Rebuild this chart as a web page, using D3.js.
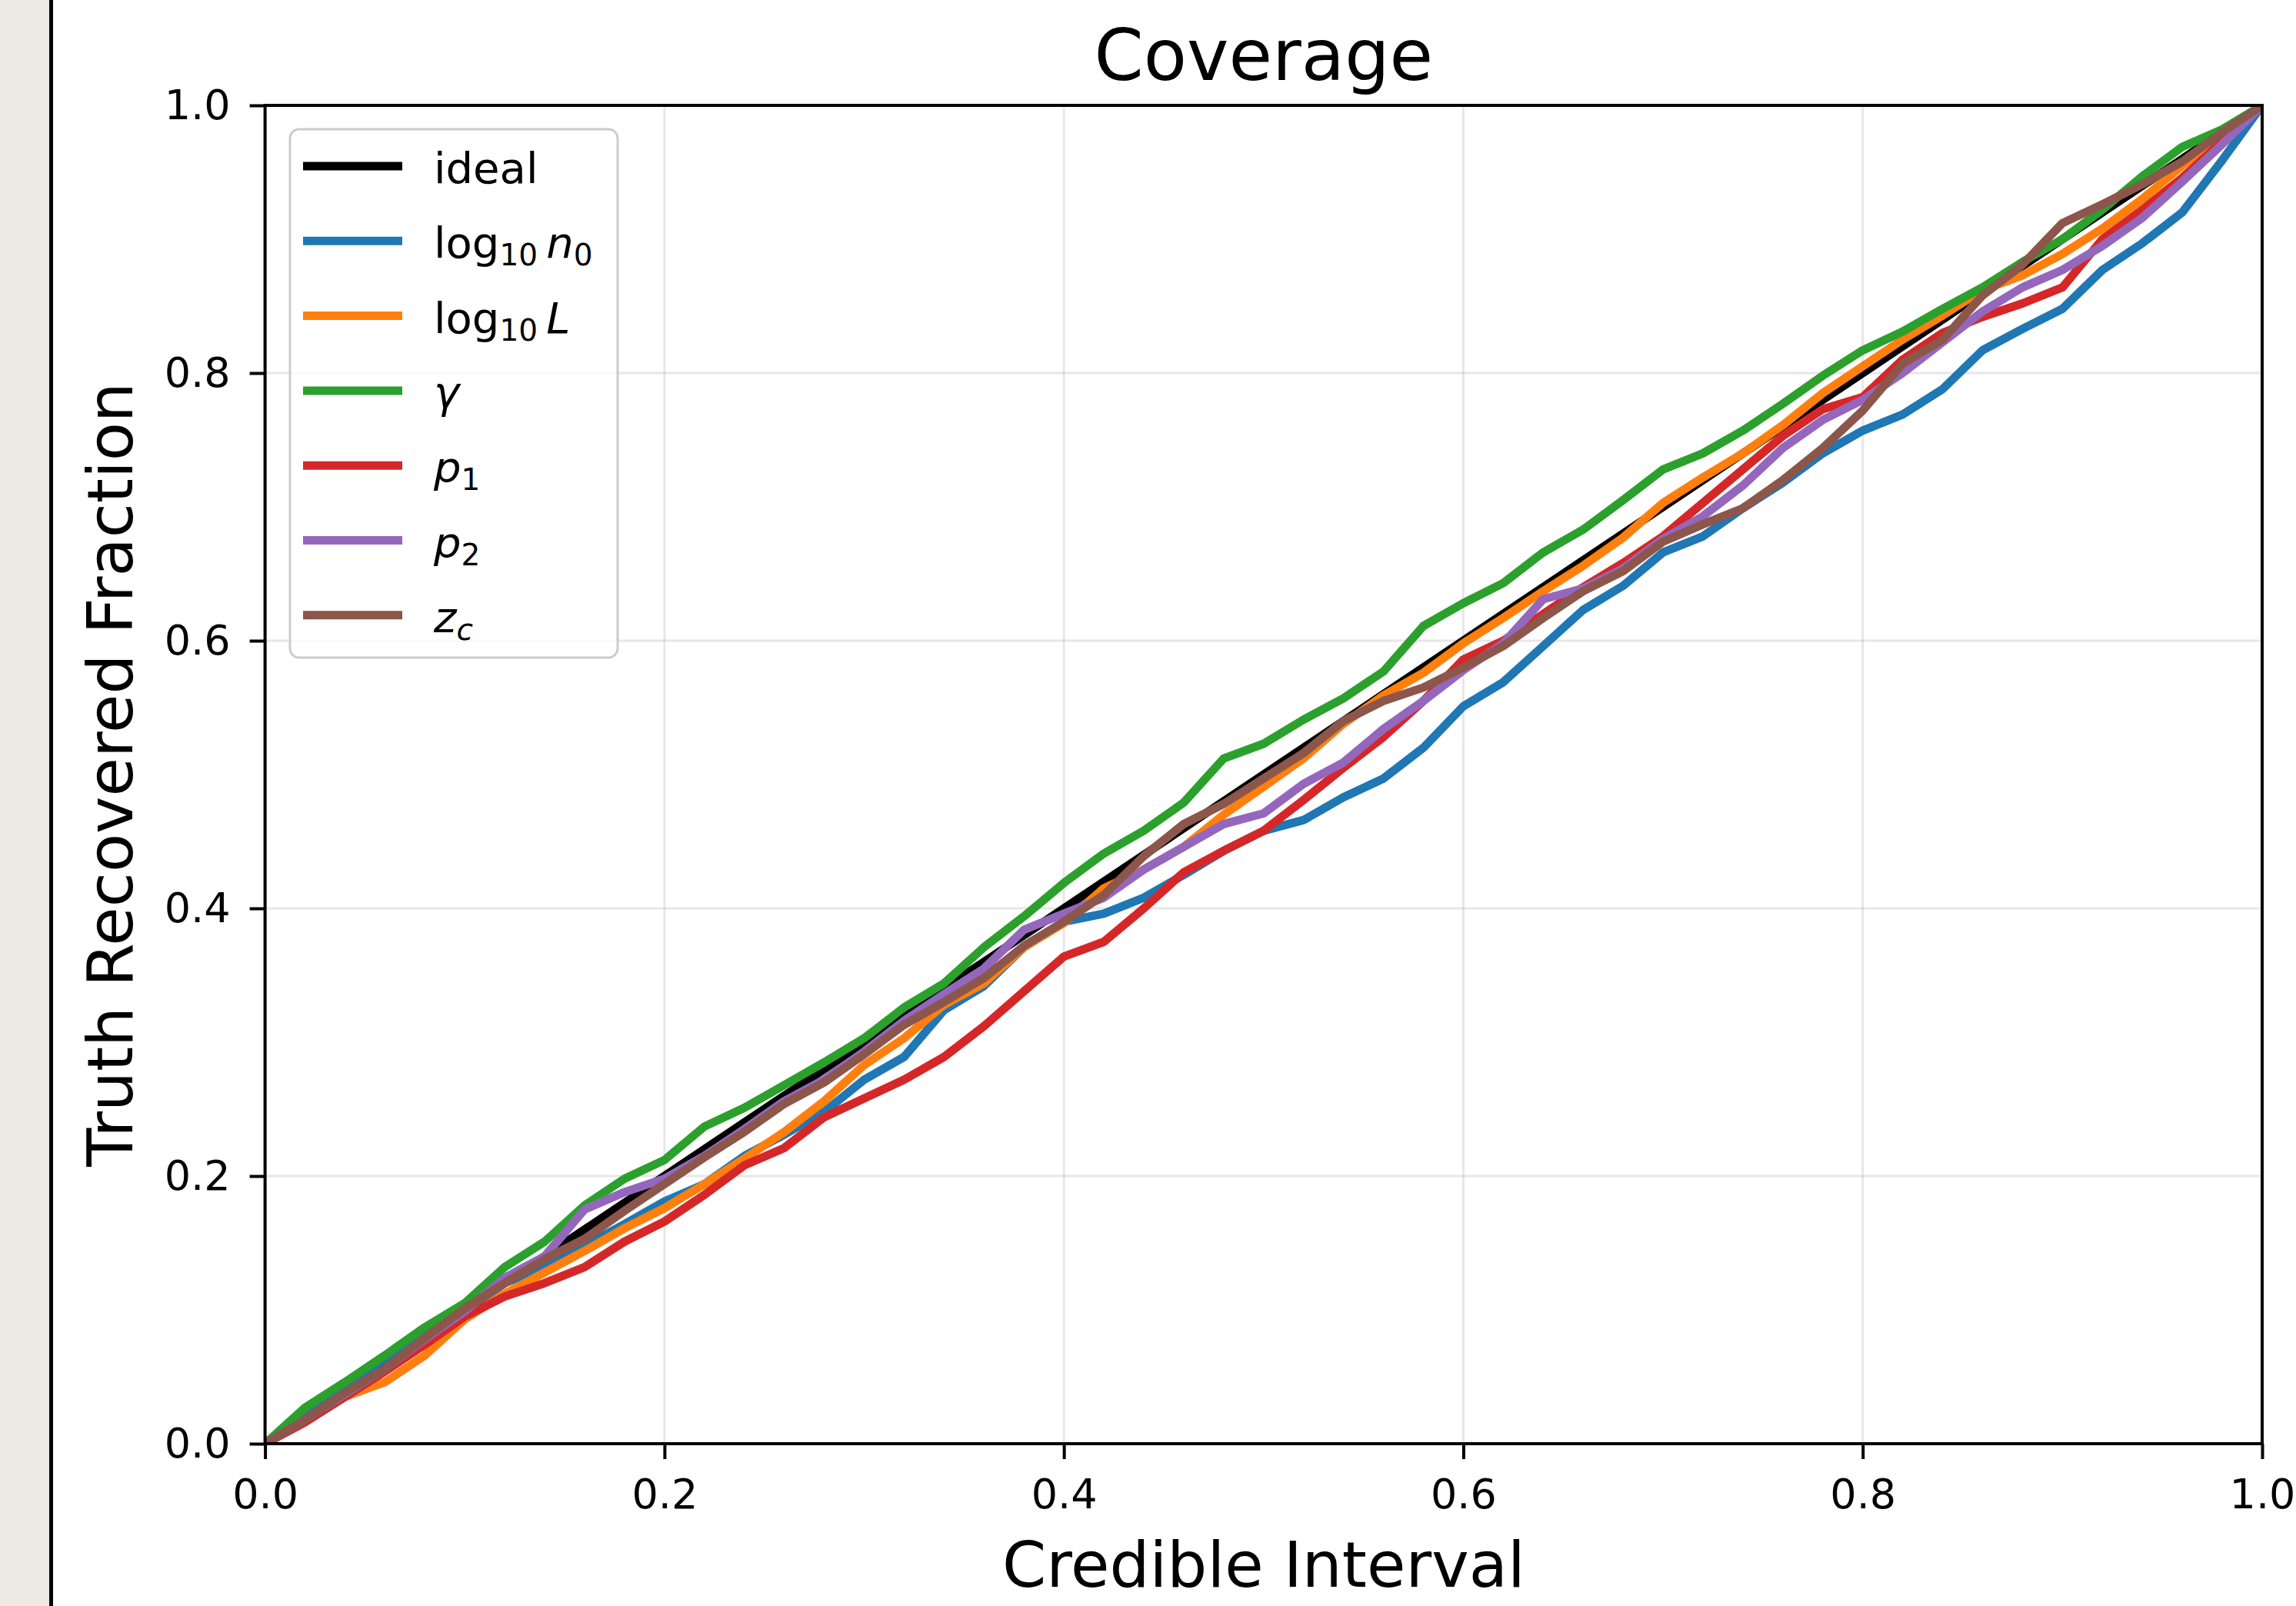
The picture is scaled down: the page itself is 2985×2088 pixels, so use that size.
<!DOCTYPE html>
<html lang="en">
<head>
<meta charset="UTF-8">
<title>Coverage</title>
<script src="https://cdnjs.cloudflare.com/ajax/libs/d3/7.8.5/d3.min.js"></script>
<style>
  * { margin: 0; padding: 0; }
  html, body { background: #fff; }
  svg { display: block; font-family: "DejaVu Sans", sans-serif; }
</style>
</head>
<body>
<div id="chart"></div>
<script>
// credible interval levels (x) shared by every curve
const levels = [0, 0.02, 0.04, 0.06, 0.08, 0.10, 0.12, 0.14, 0.16, 0.18, 0.20,
  0.22, 0.24, 0.26, 0.28, 0.30, 0.32, 0.34, 0.36, 0.38, 0.40,
  0.42, 0.44, 0.46, 0.48, 0.50, 0.52, 0.54, 0.56, 0.58, 0.60,
  0.62, 0.64, 0.66, 0.68, 0.70, 0.72, 0.74, 0.76, 0.78, 0.80,
  0.82, 0.84, 0.86, 0.88, 0.90, 0.92, 0.94, 0.96, 0.98, 1.0]

// truth recovered fraction
const idealX = [0, 1]
const idealY = [0, 1]
const n0Vals = [0, 0.020, 0.043, 0.064, 0.082, 0.099, 0.120, 0.132, 0.148, 0.164, 0.181,
  0.194, 0.215, 0.231, 0.248, 0.272, 0.289, 0.324, 0.342, 0.371, 0.390,
  0.396, 0.408, 0.425, 0.443, 0.458, 0.466, 0.483, 0.497, 0.520, 0.551,
  0.569, 0.596, 0.623, 0.641, 0.666, 0.678, 0.699, 0.718, 0.740, 0.757,
  0.769, 0.788, 0.817, 0.833, 0.848, 0.877, 0.897, 0.920, 0.959, 1.0]
const LVals = [0, 0.017, 0.035, 0.046, 0.066, 0.093, 0.112, 0.128, 0.144, 0.161, 0.176,
  0.194, 0.213, 0.233, 0.256, 0.283, 0.303, 0.328, 0.344, 0.371, 0.389,
  0.415, 0.429, 0.446, 0.470, 0.491, 0.512, 0.538, 0.559, 0.576, 0.598,
  0.617, 0.637, 0.656, 0.677, 0.703, 0.722, 0.740, 0.761, 0.785, 0.805,
  0.825, 0.843, 0.862, 0.873, 0.889, 0.908, 0.930, 0.955, 0.978, 1.0]
const gammaVals = [0, 0.027, 0.046, 0.066, 0.087, 0.105, 0.132, 0.151, 0.178, 0.198, 0.212,
  0.237, 0.251, 0.268, 0.285, 0.303, 0.326, 0.344, 0.371, 0.394, 0.419,
  0.441, 0.458, 0.479, 0.512, 0.523, 0.541, 0.557, 0.577, 0.611, 0.628,
  0.643, 0.666, 0.683, 0.705, 0.728, 0.740, 0.757, 0.777, 0.798, 0.817,
  0.831, 0.848, 0.864, 0.883, 0.900, 0.922, 0.947, 0.969, 0.982, 1.0]
const p1Vals = [0, 0.016, 0.035, 0.054, 0.074, 0.095, 0.110, 0.120, 0.132, 0.151, 0.166,
  0.186, 0.208, 0.221, 0.244, 0.258, 0.272, 0.289, 0.312, 0.338, 0.364,
  0.375, 0.400, 0.427, 0.443, 0.458, 0.481, 0.505, 0.528, 0.555, 0.586,
  0.600, 0.620, 0.640, 0.658, 0.678, 0.703, 0.728, 0.753, 0.773, 0.782,
  0.810, 0.830, 0.842, 0.852, 0.864, 0.900, 0.922, 0.946, 0.973, 1.0]
const p2Vals = [0, 0.018, 0.037, 0.056, 0.078, 0.099, 0.124, 0.140, 0.175, 0.188, 0.198,
  0.215, 0.235, 0.256, 0.272, 0.293, 0.316, 0.336, 0.355, 0.384, 0.396,
  0.408, 0.429, 0.446, 0.463, 0.471, 0.493, 0.509, 0.534, 0.555, 0.578,
  0.598, 0.631, 0.639, 0.654, 0.676, 0.693, 0.716, 0.744, 0.765, 0.780,
  0.800, 0.823, 0.846, 0.864, 0.877, 0.895, 0.916, 0.943, 0.971, 1.0]
const zcVals = [0, 0.018, 0.038, 0.056, 0.079, 0.101, 0.120, 0.138, 0.153, 0.174, 0.194,
  0.214, 0.233, 0.254, 0.270, 0.291, 0.313, 0.330, 0.348, 0.372, 0.390,
  0.410, 0.439, 0.463, 0.478, 0.497, 0.516, 0.540, 0.555, 0.565, 0.580,
  0.596, 0.617, 0.637, 0.652, 0.674, 0.687, 0.699, 0.720, 0.744, 0.772,
  0.807, 0.825, 0.858, 0.881, 0.912, 0.926, 0.941, 0.958, 0.980, 1.0]

const xTicks = [0, 0.2, 0.4, 0.6, 0.8, 1.0]
const yTicks = [0, 0.2, 0.4, 0.6, 0.8, 1.0]

// legend labels: pieces of mathtext (it = italic, sub = subscript)
const series = [
  { name: 'ideal', color: '#000000', xs: idealX, ys: idealY, label: [{ t: 'ideal' }] },
  { name: 'n0', color: '#1f77b4', xs: levels, ys: n0Vals,
    label: [{ t: 'log' }, { t: '10', sub: true }, { t: '\u2009' }, { t: 'n', it: true }, { t: '0', sub: true }] },
  { name: 'L', color: '#ff7f0e', xs: levels, ys: LVals,
    label: [{ t: 'log' }, { t: '10', sub: true }, { t: '\u2009' }, { t: 'L', it: true }] },
  { name: 'gamma', color: '#2ca02c', xs: levels, ys: gammaVals, label: [{ t: '\u03b3', it: true }] },
  { name: 'p1', color: '#d62728', xs: levels, ys: p1Vals, label: [{ t: 'p', it: true }, { t: '1', sub: true }] },
  { name: 'p2', color: '#9467bd', xs: levels, ys: p2Vals, label: [{ t: 'p', it: true }, { t: '2', sub: true }] },
  { name: 'zc', color: '#8c564b', xs: levels, ys: zcVals, label: [{ t: 'z', it: true }, { t: 'c', it: true, sub: true }] }
]

const W = 2985, H = 2088
const m = { left: 344.6, right: 2941, top: 137, bottom: 1877 }

const svg = d3.select('#chart').append('svg')
  .attr('width', W).attr('height', H)

svg.append('rect').attr('width', W).attr('height', H).attr('fill', '#fff')
// strip on the left of the screenshot
svg.append('rect').attr('x', 0).attr('y', 0).attr('width', 64).attr('height', H).attr('fill', '#eceae2')
svg.append('rect').attr('x', 64).attr('y', 0).attr('width', 5).attr('height', H).attr('fill', '#000')

const x = d3.scaleLinear().domain([0, 1]).range([m.left, m.right])
const y = d3.scaleLinear().domain([0, 1]).range([m.bottom, m.top])

// grid
const grid = svg.append('g').attr('stroke', '#b0b0b0').attr('stroke-opacity', 0.3).attr('stroke-width', 3)
grid.selectAll('.gx').data(xTicks).join('line')
  .attr('x1', d => x(d)).attr('x2', d => x(d)).attr('y1', m.top).attr('y2', m.bottom)
grid.selectAll('.gy').data(yTicks).join('line')
  .attr('y1', d => y(d)).attr('y2', d => y(d)).attr('x1', m.left).attr('x2', m.right)

svg.append('clipPath').attr('id', 'plotclip').append('rect')
  .attr('x', m.left).attr('y', m.top).attr('width', m.right - m.left).attr('height', m.bottom - m.top)

const line = d3.line().x(d => x(d[0])).y(d => y(d[1]))
svg.append('g').attr('clip-path', 'url(#plotclip)')
  .selectAll('path').data(series).join('path')
  .attr('fill', 'none')
  .attr('stroke', d => d.color)
  .attr('stroke-width', 11)
  .attr('stroke-linejoin', 'round')
  .attr('d', d => line(d.xs.map((v, i) => [v, d.ys[i]])))

// axes
const fmt = d3.format('.1f')
const xAxis = svg.append('g').attr('transform', `translate(0,${m.bottom})`)
  .call(d3.axisBottom(x).tickValues(xTicks).tickFormat(fmt).tickSize(20).tickSizeOuter(0).tickPadding(26))
const yAxis = svg.append('g').attr('transform', `translate(${m.left},0)`)
  .call(d3.axisLeft(y).tickValues(yTicks).tickFormat(fmt).tickSize(20).tickSizeOuter(0).tickPadding(25))
for (const a of [xAxis, yAxis]) {
  a.select('.domain').remove()
  a.selectAll('line').attr('stroke', '#000').attr('stroke-width', 4)
  a.selectAll('text').attr('font-size', 54).attr('fill', '#000').attr('font-family', 'DejaVu Sans')
}

svg.append('rect')
  .attr('x', m.left).attr('y', m.top).attr('width', m.right - m.left).attr('height', m.bottom - m.top)
  .attr('fill', 'none').attr('stroke', '#000').attr('stroke-width', 4)

// labels
svg.append('text').attr('x', (m.left + m.right) / 2).attr('y', 104)
  .attr('text-anchor', 'middle').attr('font-size', 92).attr('fill', '#000').text('Coverage')
svg.append('text').attr('x', (m.left + m.right) / 2).attr('y', 2063)
  .attr('text-anchor', 'middle').attr('font-size', 82).attr('fill', '#000').text('Credible Interval')
svg.append('text').attr('transform', `translate(172,${(m.top + m.bottom) / 2}) rotate(-90)`)
  .attr('text-anchor', 'middle').attr('font-size', 82).attr('fill', '#000').text('Truth Recovered Fraction')

// legend
const lg = svg.append('g')
lg.append('rect').attr('x', 377).attr('y', 168).attr('width', 426).attr('height', 687).attr('rx', 12)
  .attr('fill', '#fff').attr('fill-opacity', 0.8).attr('stroke', '#cccccc').attr('stroke-width', 3)
const rowY = i => 216 + i * 97.3
const rows = lg.selectAll('.row').data(series).join('g').attr('class', 'row')
rows.append('line')
  .attr('x1', 394).attr('x2', 523).attr('y1', (d, i) => rowY(i)).attr('y2', (d, i) => rowY(i))
  .attr('stroke', d => d.color).attr('stroke-width', 11)
rows.append('text')
  .attr('x', 564).attr('y', (d, i) => rowY(i) + 22)
  .attr('font-size', 56).attr('fill', '#000')
  .each(function (d) {
    const t = d3.select(this)
    let shifted = false
    d.label.forEach(p => {
      const s = t.append('tspan').text(p.t)
      if (p.it) s.attr('font-style', 'italic')
      if (p.sub && !shifted) { s.attr('font-size', 39).attr('dy', 10); shifted = true }
      else if (p.sub) s.attr('font-size', 39)
      else if (shifted) { s.attr('dy', -10); shifted = false }
    })
  })
</script>
</body>
</html>
